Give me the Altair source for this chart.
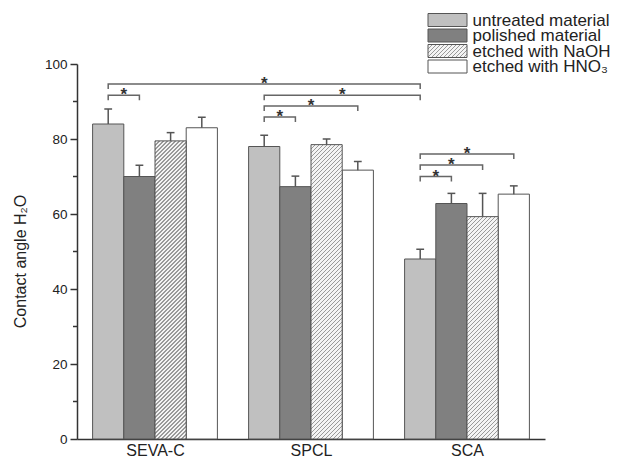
import json
import numpy as np
import pandas as pd
import altair as alt

# ---------------- data ----------------
groups = ["SEVA-C", "SPCL", "SCA"]
treatments = ["untreated material", "polished material", "etched with NaOH", "etched with HNO\u2083"]

untreated = [84.0, 78.0, 48.0]
polished = [70.0, 67.3, 62.8]
naoh = [79.5, 78.5, 59.3]
hno3 = [83.0, 71.7, 65.3]

untreated_err = [4.0, 3.0, 2.6]
polished_err = [3.0, 2.8, 2.7]
naoh_err = [2.2, 1.5, 6.2]
hno3_err = [2.8, 2.3, 2.2]

sig_from_group = ["SEVA-C", "SEVA-C", "SPCL", "SPCL", "SPCL", "SCA", "SCA", "SCA"]
sig_from_treat = [0, 0, 0, 0, 0, 0, 0, 0]
sig_to_group = ["SCA", "SEVA-C", "SCA", "SPCL", "SPCL", "SCA", "SCA", "SCA"]
sig_to_treat = [0, 1, 0, 3, 1, 3, 2, 1]
sig_level = [94.7, 91.7, 91.7, 88.8, 85.9, 76.0, 73.1, 70.0]

y_ticks = [0, 20, 40, 60, 80, 100]
y_minor = [10, 30, 50, 70, 90]

# ---------------- styles ----------------
W_PX, H_PX = 468, 375
FONT = "Liberation Sans"
EDGE = "#555555"
AXIS = "#333333"
TEXT = "#222222"
fills = ["#c0c0c0", "#808080", None, "#ffffff"]
BARW = 0.2
DROP = 5 * 100 / H_PX

values = [untreated, polished, naoh, hno3]
errors = [untreated_err, polished_err, naoh_err, hno3_err]

rows = []
for gi, g in enumerate(groups):
    for ti, t in enumerate(treatments):
        xc = gi + (ti - 1.5) * BARW
        v = values[ti][gi]
        e = errors[ti][gi]
        rows.append(dict(group=g, gi=gi, treatment=t, ti=ti, value=v, err=e,
                         xc=xc, x0=xc - BARW / 2, x1=xc + BARW / 2, zero=0.0,
                         top=v + e, c0=xc - 0.025, c1=xc + 0.025))
df = pd.DataFrame(rows)

br = []
mids = []
for i in range(len(sig_level)):
    xa = groups.index(sig_from_group[i]) + (sig_from_treat[i] - 1.5) * BARW
    xb = groups.index(sig_to_group[i]) + (sig_to_treat[i] - 1.5) * BARW
    lv = sig_level[i]
    for s, (bx, by) in enumerate([(xa, lv - DROP), (xa, lv), (xb, lv), (xb, lv - DROP)]):
        br.append(dict(id=i, seq=s, bx=bx, by=by))
    mids.append(dict(mx=(xa + xb) / 2, my=lv, star="*"))
br_df = pd.DataFrame(br)
star_df = pd.DataFrame(mids)


def hatch(W, H, period=4.0, line=1.3, dark="#9a9a9a", light="#f4f4f4"):
    total = W + H
    s = total / (W * W + H * H)
    stops = []
    n = int(np.ceil(total / period))
    for k in range(n):
        a = min(k * period / total, 1.0)
        b = min((k * period + line) / total, 1.0)
        c = min((k + 1) * period / total, 1.0)
        stops += [(a, dark), (b, dark), (b, light), (c, light)]
    return alt.LinearGradient(
        gradient="linear", x1=0, y1=0, x2=float(s * W), y2=float(s * H),
        stops=[alt.GradientStop(color=col, offset=float(o)) for o, col in stops])


xs = alt.Scale(domain=[-0.5, 2.5], nice=False, zero=False)
ys = alt.Scale(domain=[0, 100], nice=False)

label_expr = json.dumps(groups) + "[datum.value]"

x_axis = alt.Axis(values=[0, 1, 2], labelExpr=label_expr, ticks=False, grid=False,
                  domainColor=AXIS, domainWidth=1.5, labelFontSize=16, labelPadding=3,
                  labelColor=TEXT, labelFont=FONT, title=None)
y_axis = alt.Axis(values=y_ticks, tickSize=7, tickWidth=1.5, tickColor=AXIS,
                  domainColor=AXIS, domainWidth=1.5, labelFontSize=13.5, labelPadding=3,
                  labelColor=TEXT, labelFont=FONT, grid=False,
                  title="Contact angle H\u2082O", titleFontSize=16, titleFontWeight="normal",
                  titleFont=FONT, titleColor=TEXT, titleX=-49, titleY=197)

base = alt.Chart(df)

solid = base.transform_filter("datum.ti != 2").mark_rect(stroke=EDGE, strokeWidth=1).encode(
    x=alt.X("x0:Q", scale=xs, axis=x_axis),
    x2="x1:Q",
    y=alt.Y("value:Q", scale=ys, axis=y_axis),
    y2="zero:Q",
    fill=alt.Fill("treatment:N", scale=alt.Scale(domain=[treatments[i] for i in (0, 1, 3)],
                                                 range=[fills[i] for i in (0, 1, 3)]), legend=None),
)

hatched_layers = []
for gi, g in enumerate(groups):
    v = naoh[gi]
    Hpx = v * H_PX / 100
    Wpx = BARW * W_PX / 3
    hatched_layers.append(
        base.transform_filter(f"datum.ti == 2 && datum.gi == {gi}")
        .mark_rect(fill=hatch(Wpx, Hpx), stroke=EDGE, strokeWidth=1)
        .encode(x="x0:Q", x2="x1:Q", y="value:Q", y2="zero:Q")
    )

err_line = base.mark_rule(color=EDGE, strokeWidth=1.5).encode(x="xc:Q", y="value:Q", y2="top:Q")
err_cap = base.mark_rule(color=EDGE, strokeWidth=1.5).encode(x="c0:Q", x2="c1:Q", y="top:Q")

brackets = alt.Chart(br_df).mark_line(color="#666666", strokeWidth=1.5).encode(
    x="bx:Q", y="by:Q", detail="id:N", order="seq:Q")
stars = alt.Chart(star_df).mark_text(font=FONT, fontSize=17, fontWeight="bold", color="#333333",
                                     baseline="middle", align="center").encode(
    x="mx:Q", y="my:Q", text="star:N")

minor = alt.Chart(pd.DataFrame({"m": y_minor})).mark_rule(color=AXIS, strokeWidth=1.5).encode(
    y="m:Q", x=alt.value(-4), x2=alt.value(0))

leg_df = pd.DataFrame({"treatment": treatments, "li": list(range(len(treatments)))})
legend_layers = []
for i, t in enumerate(treatments):
    yt = -50.5 + i * 15.5
    fill = fills[i] if fills[i] is not None else hatch(39, 13)
    legend_layers.append(
        alt.Chart(leg_df).transform_filter(f"datum.li == {i}")
        .mark_rect(fill=fill, stroke=EDGE, strokeWidth=1)
        .encode(x=alt.value(351), x2=alt.value(390), y=alt.value(yt), y2=alt.value(yt + 13))
    )
    legend_layers.append(
        alt.Chart(leg_df).transform_filter(f"datum.li == {i}")
        .mark_text(font=FONT, fontSize=17, color=TEXT, align="left", baseline="middle")
        .encode(x=alt.value(395.5), y=alt.value(yt + 7), text="treatment:N")
    )

chart = alt.layer(solid, *hatched_layers, err_line, err_cap, brackets, stars, minor,
                  *legend_layers).properties(
    width=W_PX, height=H_PX,
    autosize=alt.AutoSizeParams(type="none"),
    padding={"left": 69, "top": 56, "right": 68, "bottom": 18},
).configure(font=FONT, background="white").configure_view(
    stroke="white", strokeWidth=0, strokeOpacity=0).configure_axis(grid=False)

chart.save("out.html", embed_options={"renderer": "svg", "actions": False})
